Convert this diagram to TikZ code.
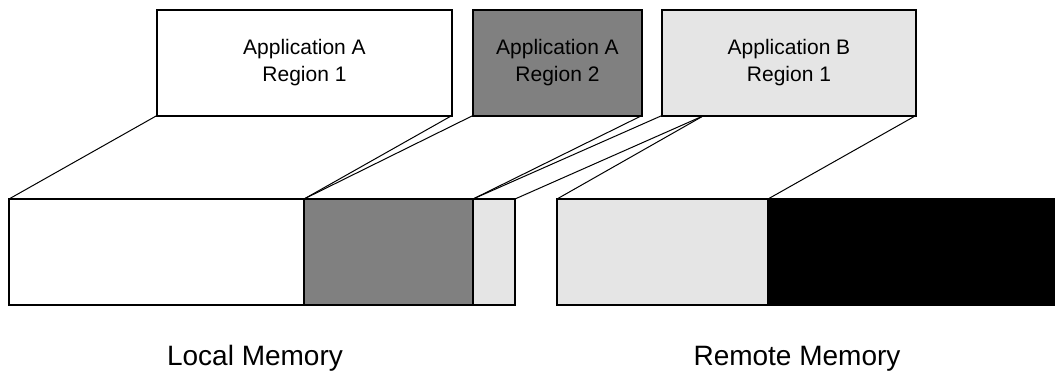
\documentclass[tikz,border=0pt]{standalone}
\usepackage{fontspec}
\setmainfont{Liberation Sans}
\begin{document}
\begin{tikzpicture}[x=1pt,y=-1pt,
  region/.style={draw,line width=2pt,rectangle,outer sep=0pt,inner sep=0pt,minimum height=106pt,
                 font=\fontsize{21}{27}\selectfont,align=center},
  seg/.style={draw,line width=2pt,rectangle,outer sep=0pt,inner sep=0pt,minimum height=106pt},
  link/.style={line width=1pt},
  memlabel/.style={font=\fontsize{28}{34}\selectfont,anchor=base}]
\useasboundingbox (0,0) rectangle (1055,373);

% top regions
\node[region,fill=white,minimum width=295pt] (a1) at (304.5,62.5) {Application A\\Region 1};
\node[region,fill=gray,minimum width=169pt] (a2) at (557.5,62.5) {Application A\\Region 2};
\node[region,fill=gray!20,minimum width=254pt] (b1) at (789,62.5) {Application B\\Region 1};
\coordinate (bsplit) at (704,115.5);

% memory segments
\node[seg,fill=white,minimum width=295pt] (l1) at (156.5,252) {};
\node[seg,fill=gray,minimum width=169pt] (l2) at (388.5,252) {};
\node[seg,fill=gray!20,minimum width=42pt] (l3) at (494,252) {};
\node[seg,fill=gray!20,minimum width=211pt] (r1) at (662.5,252) {};
\node[seg,fill=black,draw=black,minimum width=286pt] (r2) at (911,252) {};

% connectors
\draw[link] (a1.south west) -- (l1.north west);
\draw[link] (a1.south east) -- (l2.north west);
\draw[link] (a2.south west) -- (l2.north west);
\draw[link] (a2.south east) -- (l3.north west);
\draw[link] (b1.south west) -- (l3.north west);
\draw[link] (bsplit) -- (l3.north east);
\draw[link] (bsplit) -- (r1.north west);
\draw[link] (b1.south east) -- (r2.north west);

% labels
\node[memlabel] (local) at (255,365) {Local Memory};
\node[memlabel] (remote) at (797,365) {Remote Memory};
\end{tikzpicture}
\end{document}
